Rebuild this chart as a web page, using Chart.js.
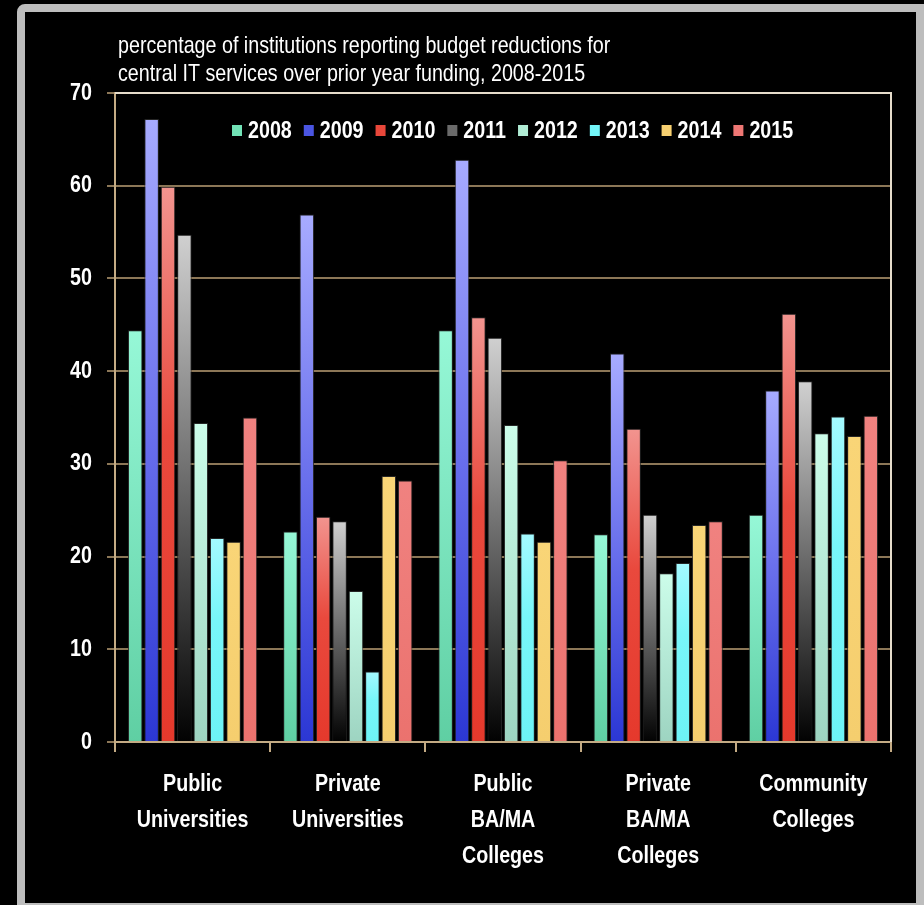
<!DOCTYPE html>
<html>
<head>
<meta charset="utf-8">
<script src="https://cdn.jsdelivr.net/npm/chart.js@4/dist/chart.umd.min.js"></script>
<style>
  html, body { margin: 0; padding: 0; background: #000; width: 924px; height: 905px; overflow: hidden; }
  #frame { position: absolute; left: 17px; top: 4px; width: 907px; height: 907px; box-sizing: border-box;
           border: 8px solid #bdbdbd; border-top-left-radius: 8px; background: #000; }
  #wrap { position: absolute; left: 0; top: 0; width: 924px; height: 905px; }
</style>
</head>
<body>
<div id="frame"></div>
<div id="wrap"><canvas id="c" width="924" height="905"></canvas></div>
<script>
// ---- data ----
const categories = [
  ['Public', 'Universities'],
  ['Private', 'Universities'],
  ['Public', 'BA/MA', 'Colleges'],
  ['Private', 'BA/MA', 'Colleges'],
  ['Community', 'Colleges']
];
const years = ['2008', '2009', '2010', '2011', '2012', '2013', '2014', '2015'];
const v2008 = [44.4, 22.7, 44.4, 22.4, 24.5];
const v2009 = [67.2, 56.9, 62.8, 41.9, 37.9];
const v2010 = [59.9, 24.3, 45.8, 33.8, 46.2];
const v2011 = [54.7, 23.8, 43.6, 24.5, 38.9];
const v2012 = [34.4, 16.3, 34.2, 18.2, 33.3];
const v2013 = [22.0, 7.6, 22.5, 19.3, 35.1];
const v2014 = [21.6, 28.7, 21.6, 23.4, 33.0];
const v2015 = [35.0, 28.2, 30.4, 23.8, 35.2];
const yTicks = [0, 10, 20, 30, 40, 50, 60, 70];
const titleLines = ['percentage of institutions reporting budget reductions for',
                    'central IT services over prior year funding, 2008-2015'];

// ---- styles ----
const FONT = "'Liberation Sans', Arial, sans-serif";
const SX = 0.82; // horizontal condensing (narrow face look)
const seriesValues = [v2008, v2009, v2010, v2011, v2012, v2013, v2014, v2015];
const gradStops = [
  [[0, '#96f8d7'], [1, '#5fcfa3']],
  [[0, '#a7abff'], [0.5, '#6a70ec'], [1, '#2b37d4']],
  [[0, '#f2948f'], [0.45, '#e9493d'], [1, '#e5392c']],
  [[0, '#d0d0d0'], [1, '#020202']],
  [[0, '#ccfdea'], [1, '#9dd4c1']],
  [[0, '#a4faff'], [0.4, '#78f6f9'], [1, '#6df3f6']],
  [[0, '#f9d577'], [1, '#f5ce6e']],
  [[0, '#f08280'], [1, '#eb726e']]
];
const legendColors = ['#72e2b6', '#4a55e2', '#e8473a', '#6a6a6a', '#b0ecd4', '#72f5f8', '#f7d070', '#ee7774'];

function withCondensed(ctx, fn) {
  const orig = ctx.translate;
  ctx.translate = function (x, y) { orig.call(this, x, y); this.scale(SX, 1); };
  try { fn(); } finally { ctx.translate = orig; }
}

class NarrowCategoryScale extends Chart.CategoryScale {
  static id = 'narrowCategory';
  drawLabels(area) { withCondensed(this.ctx, () => super.drawLabels(area)); }
}
class NarrowLinearScale extends Chart.LinearScale {
  static id = 'narrowLinear';
  drawLabels(area) { withCondensed(this.ctx, () => super.drawLabels(area)); }
}
Chart.register(NarrowCategoryScale, NarrowLinearScale);

function gradientFor(i) {
  return (ctx) => {
    const chart = ctx.chart;
    const stops = gradStops[i];
    if (ctx.type !== 'data' || !chart.chartArea || !chart.scales.y) return stops[stops.length - 1][1];
    const y = chart.scales.y;
    const top = y.getPixelForValue(ctx.raw);
    const bot = y.getPixelForValue(0);
    if (!isFinite(top) || !isFinite(bot) || bot - top < 1) return stops[stops.length - 1][1];
    const g = chart.ctx.createLinearGradient(0, top, 0, bot);
    stops.forEach(s => g.addColorStop(s[0], s[1]));
    return g;
  };
}

const datasets = years.map((yr, i) => ({
  label: yr,
  data: seriesValues[i],
  backgroundColor: gradientFor(i),
  borderColor: 'rgba(40,40,40,0.9)',
  borderWidth: 1,
  categoryPercentage: 0.845,
  barPercentage: 0.885
}));

function condensedText(ctx, text, x, y) {
  ctx.save();
  ctx.translate(x, y);
  ctx.scale(SX, 1);
  ctx.fillText(text, 0, 0);
  ctx.restore();
}

const frameLegendPlugin = {
  id: 'frameLegend',
  afterDraw(chart) {
    const { ctx, chartArea } = chart;
    ctx.save();
    // light top & right border of the plot box
    ctx.strokeStyle = '#e6dccb';
    ctx.lineWidth = 2;
    ctx.beginPath();
    ctx.moveTo(chartArea.left, chartArea.top);
    ctx.lineTo(chartArea.right, chartArea.top);
    ctx.lineTo(chartArea.right, chartArea.bottom);
    ctx.stroke();

    // title
    ctx.fillStyle = '#ffffff';
    ctx.textBaseline = 'middle';
    ctx.textAlign = 'left';
    ctx.font = "24px " + FONT;
    titleLines.forEach((line, k) => condensedText(ctx, line, chartArea.left + 3, 46 + k * 28));

    // legend
    ctx.font = "bold 24px " + FONT;
    let x = 232;
    const cy = 131;
    years.forEach((yr, i) => {
      ctx.fillStyle = legendColors[i];
      ctx.fillRect(x, cy - 6, 10, 11);
      ctx.fillStyle = '#ffffff';
      condensedText(ctx, yr, x + 16, cy);
      x += 16 + ctx.measureText(yr).width * SX + 12;
    });
    ctx.restore();
  }
};

new Chart(document.getElementById('c'), {
  type: 'bar',
  data: { labels: categories, datasets },
  plugins: [frameLegendPlugin],
  options: {
    responsive: false,
    animation: false,
    layout: { padding: { top: 93, left: 0, right: 33, bottom: 0 } },
    plugins: {
      legend: { display: false },
      tooltip: { enabled: false },
      title: { display: false }
    },
    scales: {
      x: {
        type: 'narrowCategory',
        offset: true,
        grid: { display: true, drawOnChartArea: false, drawTicks: true, tickLength: 10, color: '#c4ab84', lineWidth: 2, offset: true },
        border: { display: true, color: '#c4ab84', width: 2 },
        ticks: {
          color: '#ffffff',
          padding: 14,
          maxRotation: 0,
          minRotation: 0,
          autoSkip: false,
          font: { family: FONT, size: 24, weight: 'bold', lineHeight: 36 / 24 }
        },
        afterFit(scale) { scale.height = 163; }
      },
      y: {
        type: 'narrowLinear',
        min: 0,
        max: 70,
        afterBuildTicks(scale) { scale.ticks = yTicks.map(v => ({ value: v })); },
        grid: { color: '#8c7757', lineWidth: 2, tickLength: 8, drawTicks: true },
        border: { display: true, color: '#c4ab84', width: 2 },
        ticks: {
          color: '#ffffff',
          padding: 15,
          font: { family: FONT, size: 24, weight: 'bold' }
        },
        afterFit(scale) { scale.width = 115; }
      }
    }
  }
});
</script>
</body>
</html>
